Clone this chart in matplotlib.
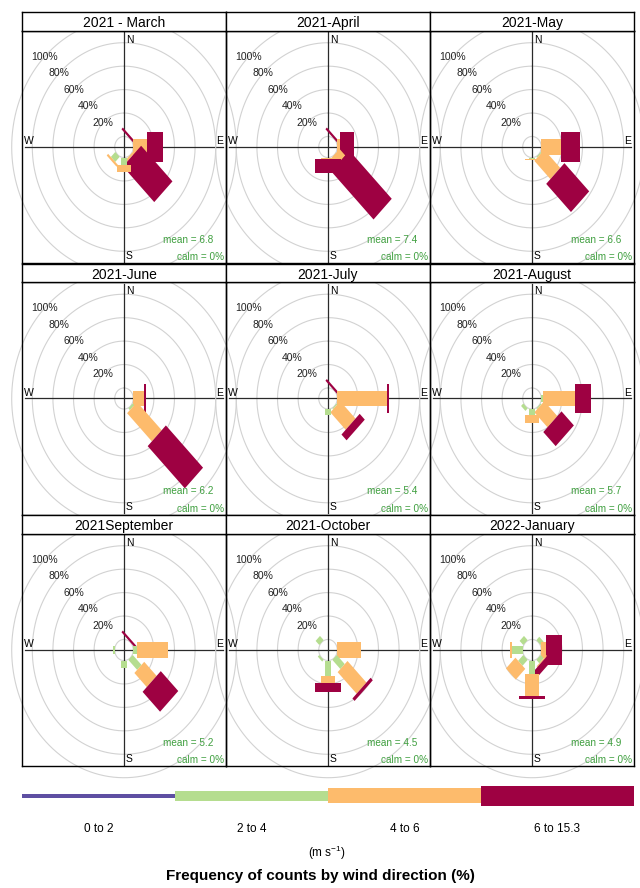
import numpy as np
import matplotlib.pyplot as plt
from matplotlib.patches import Polygon, Rectangle

plt.rcParams['font.family'] = ['Liberation Sans', 'DejaVu Sans']
plt.rcParams['mathtext.fontset'] = 'custom'
plt.rcParams['mathtext.rm'] = 'Liberation Sans'
plt.rcParams['mathtext.it'] = 'Liberation Sans:italic'

titulos = ['2021 - March', '2021-April', '2021-May',
           '2021-June', '2021-July', '2021-August',
           '2021September', '2021-October', '2022-January']
medias = [6.8, 7.4, 6.6, 6.2, 5.4, 5.7, 5.2, 4.5, 4.9]
calmas = [0, 0, 0, 0, 0, 0, 0, 0, 0]

direcciones = [0, 45, 90, 135, 180, 225, 270, 315]   # N NE E SE S SW W NW
rangos = ['0 to 2', '2 to 4', '4 to 6', '6 to 15.3']
colores = ['#5e4fa2', '#b5dd8f', '#fdbb6c', '#9e0142']

# frecuencia (%) por direccion, una lista por rango de velocidad
marzo = [[0, 0, 0, 0, 0, 0, 0, 0],
         [0, 0, 0, 0, 6, 6, 0, 0],
         [0, 0, 13, 2, 6, 2, 0, 0],
         [0, 2, 16, 43, 0, 0, 0, 0]]
abril = [[0, 0, 0, 0, 0, 0, 0, 0],
         [0, 0, 0, 0, 0, 0, 0, 0],
         [0, 0, 3, 8, 1, 0, 0, 0],
         [0, 2, 13, 58, 12, 0, 0, 0]]
mayo = [[0, 0, 0, 0, 0, 0, 0, 0],
        [0, 0, 0, 1, 1.5, 0, 0, 0],
        [0, 0, 19, 22, 0.5, 0, 0, 0],
        [0, 0, 19, 34, 0, 0, 0, 0]]
junio = [[0, 0, 0, 0, 0, 0, 0, 0],
         [0, 0, 0, 2, 0, 0, 0, 0],
         [0, 0, 10, 34, 0, 0, 0, 0],
         [0, 0, 2, 51, 0, 0, 0, 0]]
julio = [[0, 0, 0, 0, 0, 0, 0, 0],
         [0, 0, 0, 1, 5, 0, 0, 0],
         [0, 0, 48, 21, 0, 0, 0, 0],
         [0, 2, 2, 7, 0, 0, 0, 0]]
agosto = [[0, 0, 0, 0, 0, 0, 0, 0],
          [0, 0, 2, 1, 5, 3, 0, 0],
          [0, 0, 31, 18, 7, 0, 0, 0],
          [0, 0, 15, 17, 0, 0, 0, 0]]
septiembre = [[0, 0, 0, 0, 0, 0, 0, 0],
              [0, 0, 4, 12, 6, 0, 1.5, 0],
              [0, 0, 30, 17, 0, 0, 0, 0],
              [0, 2, 0, 24, 0, 0, 0, 0]]
octubre = [[0, 0, 0, 0, 0, 0, 0, 0],
           [0, 0, 0, 11, 13, 2, 0, 5],
           [0, 0, 23, 26, 6.5, 0, 0, 0],
           [0, 0, 0, 3, 7, 0, 0, 0]]
enero = [[0, 0, 0, 0, 0, 0, 0, 0],
         [0, 4, 0, 4, 11.5, 7, 10, 5],
         [0, 0, 5, 1, 18.5, 13, 2, 0],
         [0, 0, 15, 6, 3, 0, 0, 0]]
datos = [marzo, abril, mayo, junio, julio, agosto, septiembre, octubre, enero]

etiquetas_pct = [20, 40, 60, 80, 100]

W, H = 640, 888
offset = 9
lim = 99
anchos = [2, 6, 13.5, 25]
verde_txt = '#3f9f3f'


def paleta(ax, ang, r1, r2, ancho, color):
    t = np.deg2rad(ang)
    u = np.array([np.sin(t), np.cos(t)])
    n = np.array([np.cos(t), -np.sin(t)])
    pts = [r1 * u + ancho / 2 * n, r2 * u + ancho / 2 * n,
           r2 * u - ancho / 2 * n, r1 * u - ancho / 2 * n]
    ax.add_patch(Polygon(pts, closed=True, facecolor=color, edgecolor='none', zorder=3))


def rosa(ax, tabla, media, calma):
    ax.set_xlim(-lim, lim)
    ax.set_ylim(-lim, lim)
    ax.patch.set_visible(False)
    ax.set_xticks([])
    ax.set_yticks([])
    for s in ax.spines.values():
        s.set_linewidth(1.0)
        s.set_zorder(5)
    th = np.linspace(0, 2 * np.pi, 300)
    for r in [offset] + [p + offset for p in etiquetas_pct]:
        ax.plot(r * np.sin(th), r * np.cos(th), color='#d2d2d2', lw=0.8,
                clip_on=False, zorder=1)
    ax.plot([-96, 96], [0, 0], color='#2a2a2a', lw=0.9, zorder=2)
    ax.plot([0, 0], [-98, 98], color='#2a2a2a', lw=0.9, zorder=2)
    for p in etiquetas_pct:
        r = p + offset
        ax.text(-r * np.sin(np.pi / 4), r * np.cos(np.pi / 4), f'{p}%',
                ha='center', va='center', fontsize=7.5, color='#222222', zorder=4)
    ax.text(2, 96, 'N', ha='left', va='top', fontsize=7.5, zorder=4)
    ax.text(2, -97, 'S', ha='left', va='bottom', fontsize=7.5, zorder=4)
    ax.text(96, 0.5, 'E', ha='right', va='bottom', fontsize=7.5, zorder=4)
    ax.text(-97, 0.5, 'W', ha='left', va='bottom', fontsize=7.5, zorder=4)
    # paletas acumuladas, direccion por direccion
    for j, d in enumerate(direcciones):
        acum = offset
        for k in range(len(rangos)):
            v = tabla[k][j]
            if v > 0:
                paleta(ax, d, acum, acum + v, anchos[k], colores[k])
            acum += v
    ax.text(87, -79, f'mean = {media}', ha='right', va='center', fontsize=7.2,
            color=verde_txt, zorder=4)
    ax.text(97, -94, f'calm = {calma}%', ha='right', va='center', fontsize=7.2,
            color=verde_txt, zorder=4)


fig = plt.figure(figsize=(W / 100, H / 100), dpi=100)

col_x = [22, 226, 430]
fila_y = [12, 263.5, 515]
ancho_p = 204
alto_tira = 19
alto_p = 232

for i in range(9):
    f, c = divmod(i, 3)
    x0 = col_x[c]
    y0 = fila_y[f]
    ax = fig.add_axes([x0 / W, 1 - (y0 + alto_tira + alto_p) / H, ancho_p / W, alto_p / H])
    rosa(ax, datos[i], medias[i], calmas[i])
    tira = fig.add_axes([x0 / W, 1 - (y0 + alto_tira) / H, ancho_p / W, alto_tira / H])
    tira.set_zorder(10)
    tira.set_xticks([])
    tira.set_yticks([])
    tira.set_facecolor('white')
    for s in tira.spines.values():
        s.set_linewidth(1.0)
    tira.text(0.5, 0.42, titulos[i], ha='center', va='center', fontsize=10,
              transform=tira.transAxes)

# leyenda
leg = fig.add_axes([22 / W, 1 - 806 / H, 612 / W, 21 / H])
leg.set_xlim(0, 4)
leg.set_ylim(-10.5, 10.5)
leg.axis('off')
alturas = [4, 10, 15, 20]
for k in range(4):
    leg.add_patch(Rectangle((k, -alturas[k] / 2), 1, alturas[k], facecolor=colores[k],
                            edgecolor='none'))
    fig.text((22 + 153 * (k + 0.5)) / W, 1 - 829 / H, rangos[k], ha='center',
             va='center', fontsize=8.5)

fig.text(327 / W, 1 - 853 / H, r'(m s$^{-1}$)', ha='center', va='center', fontsize=8.5)
fig.text(320 / W, 1 - 876 / H, 'Frequency of counts by wind direction (%)',
         ha='center', va='center', fontsize=11, fontweight='bold')

fig.savefig('out.png', dpi=100)
